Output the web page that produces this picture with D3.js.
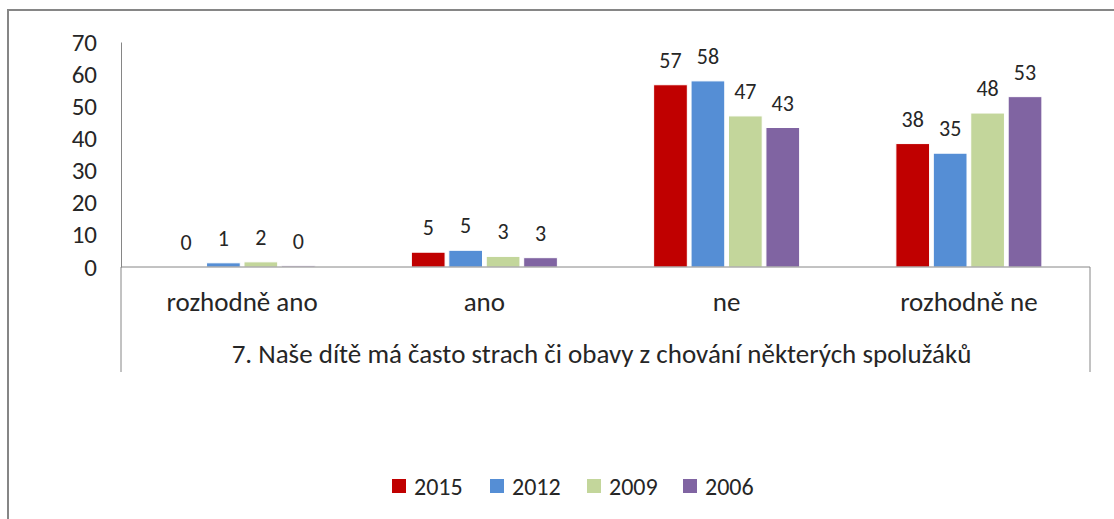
<!DOCTYPE html>
<html>
<head>
<meta charset="utf-8">
<script src="https://cdn.jsdelivr.net/npm/d3@7"></script>
<style>
  body { margin: 0; background: #fff; }
  text { font-family: Carlito, Calibri, Lato, sans-serif; fill: #262626; }
</style>
</head>
<body>
<div id="chart"></div>
<script>
// chart data
var categories = ["rozhodně ano", "ano", "ne", "rozhodně ne"];
var years = ["2015", "2012", "2009", "2006"];
var v2015 = [0, 4.6, 56.7, 38.4];
var v2012 = [1.3, 5.2, 57.9, 35.4];
var v2009 = [1.6, 3.3, 47.0, 47.9];
var v2006 = [0.4, 2.9, 43.4, 53.0];
var yTicks = [0, 10, 20, 30, 40, 50, 60, 70];
var axisTitle = "7. Naše dítě má často strach či obavy z chování některých spolužáků";

var seriesValues = [v2015, v2012, v2009, v2006];
var colors = ["#c00000", "#558ed5", "#c3d69b", "#8064a2"];

drawChart();

function drawChart() {
  var svg = d3.select("#chart")
      .append("svg")
      .attr("width", 1114)
      .attr("height", 519);

  // outer chart border (cut off at right and bottom)
  svg.append("rect")
      .attr("x", 8).attr("y", 10)
      .attr("width", 1130).attr("height", 530)
      .attr("fill", "none")
      .attr("stroke", "#868686")
      .attr("stroke-width", 2);

  var left = 121, right = 1090, top = 42, bottom = 267;

  var x0 = d3.scaleBand().domain(categories).range([left, right]);
  var x1 = d3.scaleBand().domain(years).range([0, 146]).paddingInner(0.1);
  var y = d3.scaleLinear().domain([0, 70]).range([bottom, top]);

  var data = categories.map(function(c, i) {
    return {
      cat: c,
      vals: years.map(function(yr, j) { return {year: yr, idx: j, value: seriesValues[j][i]}; })
    };
  });

  // y axis
  var yAxis = svg.append("g")
      .attr("transform", "translate(" + left + ",0)")
      .call(d3.axisLeft(y).tickValues(yTicks).tickSize(0).tickPadding(24));
  yAxis.select(".domain").attr("stroke", "#868686");
  yAxis.selectAll("text")
      .attr("font-size", "25px")
      .attr("font-family", "Carlito, Calibri, Lato, sans-serif")
      .attr("fill", "#262626");

  // bars
  var groups = svg.selectAll(".grp")
      .data(data)
      .enter()
      .append("g")
      .attr("transform", function(d) {
        return "translate(" + (x0(d.cat) + x0.bandwidth() / 2 - 73) + ",0)";
      });

  groups.selectAll("rect")
      .data(function(d) { return d.vals; })
      .enter()
      .append("rect")
      .attr("x", function(d) { return x1(d.year); })
      .attr("y", function(d) { return y(d.value); })
      .attr("width", x1.bandwidth())
      .attr("height", function(d) { return y(0) - y(d.value); })
      .attr("fill", function(d) { return colors[d.idx]; })
      .attr("stroke", "#fff")
      .attr("stroke-width", 1);

  groups.selectAll(".lbl")
      .data(function(d) { return d.vals; })
      .enter()
      .append("text")
      .attr("x", function(d) { return x1(d.year) + x1.bandwidth() / 2; })
      .attr("y", function(d) { return y(d.value) - 17; })
      .attr("text-anchor", "middle")
      .attr("font-size", "22px")
      .text(function(d) { return d3.format(".0f")(d.value); });

  // x axis line and outer separators
  svg.append("line")
      .attr("x1", left).attr("x2", right)
      .attr("y1", y(0)).attr("y2", y(0))
      .attr("stroke", "#868686");
  [left, right].forEach(function(xx) {
    svg.append("line")
        .attr("x1", xx).attr("x2", xx)
        .attr("y1", y(0)).attr("y2", 372)
        .attr("stroke", "#868686");
  });

  // category labels
  svg.selectAll(".cat")
      .data(categories)
      .enter()
      .append("text")
      .attr("x", function(d) { return x0(d) + x0.bandwidth() / 2; })
      .attr("y", 311)
      .attr("text-anchor", "middle")
      .attr("font-size", "27px")
      .text(function(d) { return d; });

  svg.append("text")
      .attr("x", (left + right) / 2 - 4)
      .attr("y", 363)
      .attr("text-anchor", "middle")
      .attr("font-size", "27px")
      .text(axisTitle);

  // legend
  var legendX = [392, 490, 587, 683];
  var legend = svg.selectAll(".leg")
      .data(years)
      .enter()
      .append("g")
      .attr("transform", function(d, i) { return "translate(" + legendX[i] + ",479)"; });
  legend.append("rect")
      .attr("width", 14).attr("height", 14)
      .attr("fill", function(d, i) { return colors[i]; });
  legend.append("text")
      .attr("x", 22).attr("y", 16)
      .attr("font-size", "24px")
      .text(function(d) { return d; });
}
</script>
</body>
</html>
